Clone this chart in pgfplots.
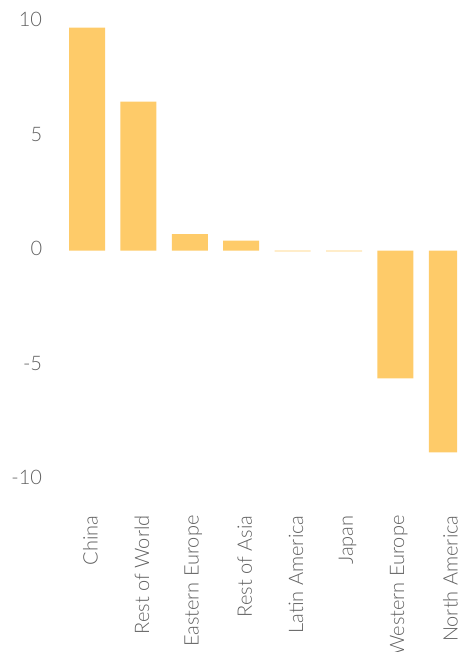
\documentclass[border=0pt]{standalone}
\usepackage{pgfplots}
\pgfplotsset{compat=1.18}
\usepackage{fontspec}
\setmainfont{Lato Light}
\definecolor{barc}{HTML}{FECB69}
\definecolor{txt}{HTML}{606060}
\begin{document}
\begin{tikzpicture}[x=1pt,y=1pt]
\useasboundingbox (0,0) rectangle (457,652);
\clip (0,0) rectangle (457,652);
\begin{axis}[
  at={(61.3pt,161pt)}, anchor=south west,
  scale only axis, width=395.7pt, height=480.9pt,
  xmin=-0.5, xmax=7.198, ymin=-10.5, ymax=10.5,
  axis line style={draw=none},
  ytick={-10,-5,0,5,10},
  xtick={0,1,2,3,4,5,6,7},
  xticklabels={China,Rest of World,Eastern Europe,Rest of Asia,Latin America,Japan,Western Europe,North America},
  tick style={draw=none},
  /pgf/number format/assume math mode=true,
  yticklabel style={font=\fontsize{20}{24}\selectfont, text=txt, anchor=east, inner sep=0pt, xshift=-19pt, yshift=2pt},
  xticklabel style={font=\fontsize{20}{24}\selectfont, text=txt, rotate=90, anchor=east, inner sep=0pt, xshift=-20pt, yshift=-3.5pt},
  ybar, bar width=36pt, bar shift=0pt,
  clip=true,
]
\addplot[draw=none, fill=barc] coordinates {
 (0,9.73) (1,6.5) (2,0.72) (3,0.43) (4,-0.04) (5,-0.04) (6,-5.58) (7,-8.81)
};
\end{axis}
\end{tikzpicture}
\end{document}
